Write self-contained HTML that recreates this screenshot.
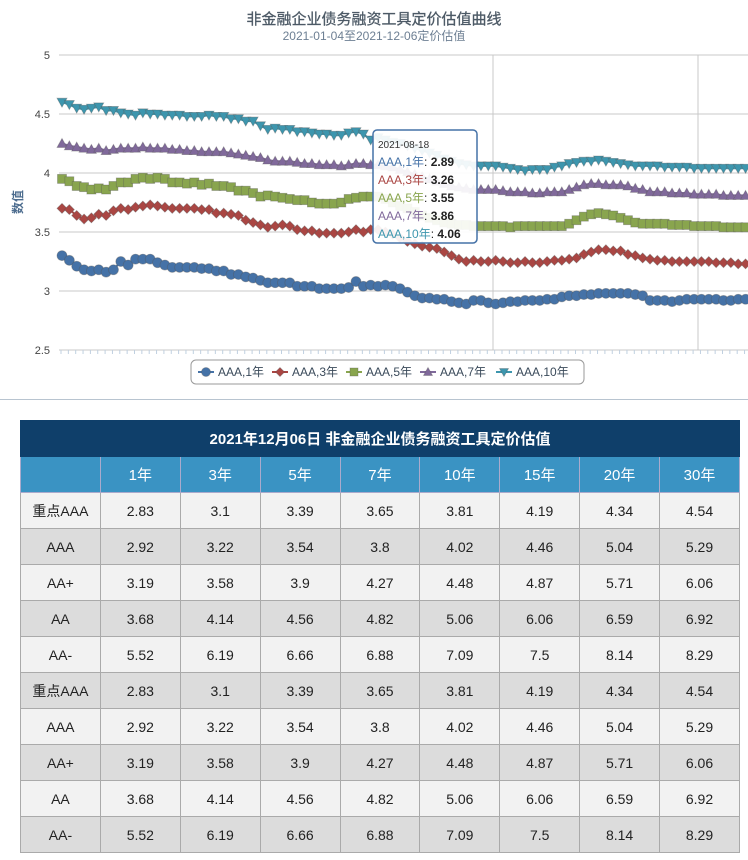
<!DOCTYPE html>
<html><head><meta charset="utf-8">
<style>
body{margin:0;width:748px;height:860px;background:#fff;font-family:"Liberation Sans","Noto Sans CJK SC",sans-serif;overflow:hidden;position:relative}
#chart{position:absolute;left:0;top:0;width:748px;height:399px;border-bottom:1px solid #b8c4d0}
table{position:absolute;left:20px;top:420px;border-collapse:collapse;width:720px;table-layout:fixed}
td,th{border:1px solid #aaa;height:35px;text-align:center;font-size:14px;color:#222;padding:0;font-weight:normal}
tr.t th{background:#0f3f6a;color:#fff;font-size:15px;font-weight:bold;border-color:#0f3f6a}
tr.h th{background:#3a93c3;color:#fff;font-size:15px;border-color:#aac}
tr.o td{background:#f2f2f2}
tr.e td{background:#dcdcdc}
</style></head><body>
<svg id="chart" width="748" height="399" xmlns="http://www.w3.org/2000/svg" font-family="Liberation Sans, Noto Sans CJK SC, sans-serif">
<text x="374" y="24" text-anchor="middle" font-size="15" fill="#4d5a66" stroke="#4d5a66" stroke-width="0.3">非金融企业债务融资工具定价估值曲线</text>
<text x="374" y="40" text-anchor="middle" font-size="12" fill="#6d7f93">2021-01-04至2021-12-06定价估值</text>
<text x="22" y="202" text-anchor="middle" font-size="12" font-weight="bold" fill="#4d6d8f" transform="rotate(-90 22 202)">数值</text>
<g id="grid"></g><g id="series"></g>
<g>
<rect x="373" y="130" width="104" height="113" rx="4" fill="#fff" fill-opacity="0.92" stroke="#4572A7" stroke-width="1.5"/>
<text x="378" y="148" font-size="10" fill="#333">2021-08-18</text>
<text x="378" y="166" font-size="12"><tspan fill="#4572A7">AAA,1年</tspan><tspan fill="#222">: </tspan><tspan font-weight="bold" fill="#222">2.89</tspan></text>
<text x="378" y="184" font-size="12"><tspan fill="#AA4643">AAA,3年</tspan><tspan fill="#222">: </tspan><tspan font-weight="bold" fill="#222">3.26</tspan></text>
<text x="378" y="202" font-size="12"><tspan fill="#89A54E">AAA,5年</tspan><tspan fill="#222">: </tspan><tspan font-weight="bold" fill="#222">3.55</tspan></text>
<text x="378" y="220" font-size="12"><tspan fill="#80699B">AAA,7年</tspan><tspan fill="#222">: </tspan><tspan font-weight="bold" fill="#222">3.86</tspan></text>
<text x="378" y="238" font-size="12"><tspan fill="#3D96AE">AAA,10年</tspan><tspan fill="#222">: </tspan><tspan font-weight="bold" fill="#222">4.06</tspan></text>
</g>
<g>
<rect x="191" y="360" width="393" height="24" rx="5" fill="#fff" stroke="#999"/>
<g id="legend"></g>
</g>
</svg>
<table>
<tr class="t"><th colspan="9">2021年12月06日 非金融企业债务融资工具定价估值</th></tr>
<tr class="h"><th></th><th>1年</th><th>3年</th><th>5年</th><th>7年</th><th>10年</th><th>15年</th><th>20年</th><th>30年</th></tr>
<tr class="o"><td>重点AAA</td><td>2.83</td><td>3.1</td><td>3.39</td><td>3.65</td><td>3.81</td><td>4.19</td><td>4.34</td><td>4.54</td></tr>
<tr class="e"><td>AAA</td><td>2.92</td><td>3.22</td><td>3.54</td><td>3.8</td><td>4.02</td><td>4.46</td><td>5.04</td><td>5.29</td></tr>
<tr class="o"><td>AA+</td><td>3.19</td><td>3.58</td><td>3.9</td><td>4.27</td><td>4.48</td><td>4.87</td><td>5.71</td><td>6.06</td></tr>
<tr class="e"><td>AA</td><td>3.68</td><td>4.14</td><td>4.56</td><td>4.82</td><td>5.06</td><td>6.06</td><td>6.59</td><td>6.92</td></tr>
<tr class="o"><td>AA-</td><td>5.52</td><td>6.19</td><td>6.66</td><td>6.88</td><td>7.09</td><td>7.5</td><td>8.14</td><td>8.29</td></tr>
<tr class="e"><td>重点AAA</td><td>2.83</td><td>3.1</td><td>3.39</td><td>3.65</td><td>3.81</td><td>4.19</td><td>4.34</td><td>4.54</td></tr>
<tr class="o"><td>AAA</td><td>2.92</td><td>3.22</td><td>3.54</td><td>3.8</td><td>4.02</td><td>4.46</td><td>5.04</td><td>5.29</td></tr>
<tr class="e"><td>AA+</td><td>3.19</td><td>3.58</td><td>3.9</td><td>4.27</td><td>4.48</td><td>4.87</td><td>5.71</td><td>6.06</td></tr>
<tr class="o"><td>AA</td><td>3.68</td><td>4.14</td><td>4.56</td><td>4.82</td><td>5.06</td><td>6.06</td><td>6.59</td><td>6.92</td></tr>
<tr class="e"><td>AA-</td><td>5.52</td><td>6.19</td><td>6.66</td><td>6.88</td><td>7.09</td><td>7.5</td><td>8.14</td><td>8.29</td></tr>
</table>
<script>
const yTicks=[2.5,3,3.5,4,4.5,5];
const seriesNames=["AAA,1年","AAA,3年","AAA,5年","AAA,7年","AAA,10年"];
const s1=[3.30,3.26,3.21,3.18,3.17,3.18,3.16,3.18,3.25,3.22,3.27,3.27,3.27,3.24,3.22,3.20,3.20,3.20,3.20,3.19,3.19,3.17,3.17,3.14,3.14,3.12,3.11,3.09,3.07,3.07,3.07,3.07,3.04,3.04,3.04,3.02,3.02,3.02,3.02,3.03,3.08,3.04,3.05,3.04,3.05,3.04,3.02,2.99,2.96,2.94,2.94,2.93,2.93,2.91,2.90,2.89,2.92,2.92,2.90,2.89,2.90,2.91,2.91,2.92,2.92,2.92,2.93,2.93,2.95,2.96,2.96,2.97,2.97,2.98,2.98,2.98,2.98,2.98,2.97,2.96,2.92,2.92,2.92,2.91,2.92,2.93,2.93,2.93,2.93,2.93,2.92,2.92,2.93,2.93];
const s3=[3.70,3.69,3.64,3.61,3.62,3.65,3.64,3.68,3.70,3.69,3.71,3.72,3.73,3.72,3.71,3.70,3.70,3.70,3.70,3.69,3.69,3.66,3.66,3.65,3.64,3.60,3.58,3.56,3.54,3.55,3.56,3.55,3.52,3.51,3.51,3.49,3.49,3.49,3.49,3.50,3.52,3.50,3.52,3.52,3.50,3.48,3.45,3.42,3.40,3.38,3.37,3.36,3.33,3.30,3.27,3.25,3.26,3.25,3.25,3.26,3.25,3.24,3.24,3.25,3.24,3.24,3.25,3.26,3.26,3.27,3.28,3.31,3.33,3.35,3.35,3.34,3.34,3.31,3.30,3.28,3.27,3.26,3.26,3.25,3.25,3.25,3.25,3.25,3.25,3.24,3.24,3.24,3.23,3.23];
const s5=[3.95,3.93,3.89,3.88,3.86,3.87,3.86,3.89,3.92,3.92,3.95,3.96,3.95,3.96,3.95,3.92,3.92,3.91,3.92,3.90,3.91,3.89,3.89,3.88,3.85,3.85,3.83,3.80,3.81,3.80,3.79,3.78,3.77,3.77,3.75,3.74,3.74,3.74,3.75,3.78,3.79,3.80,3.80,3.80,3.78,3.75,3.72,3.70,3.67,3.64,3.62,3.60,3.58,3.57,3.56,3.56,3.55,3.55,3.55,3.55,3.55,3.54,3.55,3.55,3.55,3.55,3.55,3.55,3.55,3.57,3.60,3.63,3.65,3.66,3.65,3.64,3.62,3.60,3.58,3.57,3.57,3.57,3.57,3.56,3.56,3.56,3.55,3.55,3.55,3.55,3.54,3.54,3.54,3.54];
const s7=[4.25,4.23,4.22,4.21,4.20,4.21,4.19,4.20,4.21,4.21,4.21,4.22,4.21,4.21,4.21,4.20,4.20,4.19,4.19,4.18,4.18,4.18,4.18,4.17,4.16,4.15,4.14,4.13,4.11,4.10,4.10,4.10,4.09,4.08,4.08,4.07,4.07,4.07,4.06,4.07,4.08,4.08,4.07,4.07,4.06,4.05,4.03,4.01,3.99,3.97,3.95,3.93,3.91,3.89,3.88,3.87,3.86,3.86,3.86,3.86,3.85,3.84,3.84,3.84,3.83,3.83,3.84,3.84,3.84,3.86,3.88,3.90,3.91,3.91,3.90,3.90,3.90,3.89,3.87,3.86,3.84,3.84,3.84,3.83,3.83,3.83,3.82,3.82,3.82,3.82,3.81,3.81,3.81,3.81];
const s10=[4.60,4.58,4.55,4.54,4.55,4.56,4.53,4.53,4.51,4.50,4.49,4.51,4.50,4.50,4.49,4.49,4.49,4.48,4.48,4.48,4.49,4.48,4.48,4.46,4.46,4.44,4.44,4.40,4.37,4.38,4.37,4.37,4.35,4.35,4.34,4.33,4.33,4.32,4.32,4.34,4.35,4.33,4.28,4.30,4.28,4.26,4.25,4.23,4.21,4.19,4.17,4.15,4.12,4.10,4.08,4.07,4.06,4.06,4.06,4.06,4.05,4.04,4.03,4.02,4.03,4.03,4.03,4.05,4.06,4.08,4.09,4.10,4.10,4.11,4.10,4.09,4.08,4.07,4.06,4.06,4.06,4.06,4.05,4.05,4.05,4.05,4.04,4.04,4.04,4.04,4.04,4.04,4.04,4.04];
const allSeries=[s1,s3,s5,s7,s10];
const colors=["#4572A7","#AA4643","#89A54E","#80699B","#3D96AE"];
const shapes=["circle","diamond","square","tri","tridown"];
const NS="http://www.w3.org/2000/svg";
const X0=62,DX=7.35;
function xs(i){return X0+i*DX;}
function ys(v){return 55+(5-v)*118;}
function mk(t,a,p){const e=document.createElementNS(NS,t);for(const k in a)e.setAttribute(k,a[k]);p.appendChild(e);return e;}
const grid=document.getElementById('grid');
yTicks.forEach(t=>{
  mk('line',{x1:59,x2:748,y1:ys(t),y2:ys(t),stroke:'#c8c8c8'},grid);
  const tx=mk('text',{x:50,y:ys(t)+4,'text-anchor':'end','font-size':11,fill:'#444'},grid);
  tx.textContent=t;
  
  
});
[493,698].forEach(x=>mk('line',{x1:x,x2:x,y1:55,y2:350,stroke:'#c8c8c8'},grid));
for(let i=0;i<96;i++)mk('line',{x1:xs(i)-1,x2:xs(i)-1,y1:350,y2:354,stroke:'#c0d0e0'},grid);
function marker(shape,x,y,c,r,p){
  let e;
  if(shape==='circle')e=mk('circle',{cx:x,cy:y,r:r},p);
  else if(shape==='square')e=mk('rect',{x:x-r+0.5,y:y-r+0.5,width:2*r-1,height:2*r-1},p);
  else if(shape==='diamond')e=mk('polygon',{points:`${x},${y-r} ${x+r},${y} ${x},${y+r} ${x-r},${y}`},p);
  else if(shape==='tri')e=mk('polygon',{points:`${x},${y-r} ${x+r},${y+r-1} ${x-r},${y+r-1}`},p);
  else e=mk('polygon',{points:`${x-r},${y-r+1} ${x+r},${y-r+1} ${x},${y+r}`},p);
  e.setAttribute('fill',c);e.setAttribute('stroke','#555');e.setAttribute('stroke-opacity','0.4');e.setAttribute('stroke-width','0.8');
  return e;
}
const sg=document.getElementById('series');
allSeries.forEach((s,k)=>{
  const g=mk('g',{},sg);
  
  
  mk('polyline',{points:s.map((v,i)=>xs(i)+','+ys(v)).join(' '),fill:'none',stroke:colors[k],'stroke-width':2},g);
  s.forEach((v,i)=>{
    const m=marker(shapes[k],xs(i),ys(v),colors[k],5,g);
    
    
  });
});
const lg=document.getElementById('legend');
const lx=[198,272,346,420,496];
seriesNames.forEach((n,k)=>{
  const g=mk('g',{},lg);
  
  
  mk('line',{x1:lx[k],x2:lx[k]+16,y1:372,y2:372,stroke:colors[k],'stroke-width':2},g);
  marker(shapes[k],lx[k]+8,372,colors[k],4.5,g);
  const t=mk('text',{x:lx[k]+20,y:376,'font-size':12,fill:'#3a4a5a'},g);
  t.textContent=n;
});
</script>
</body></html>
